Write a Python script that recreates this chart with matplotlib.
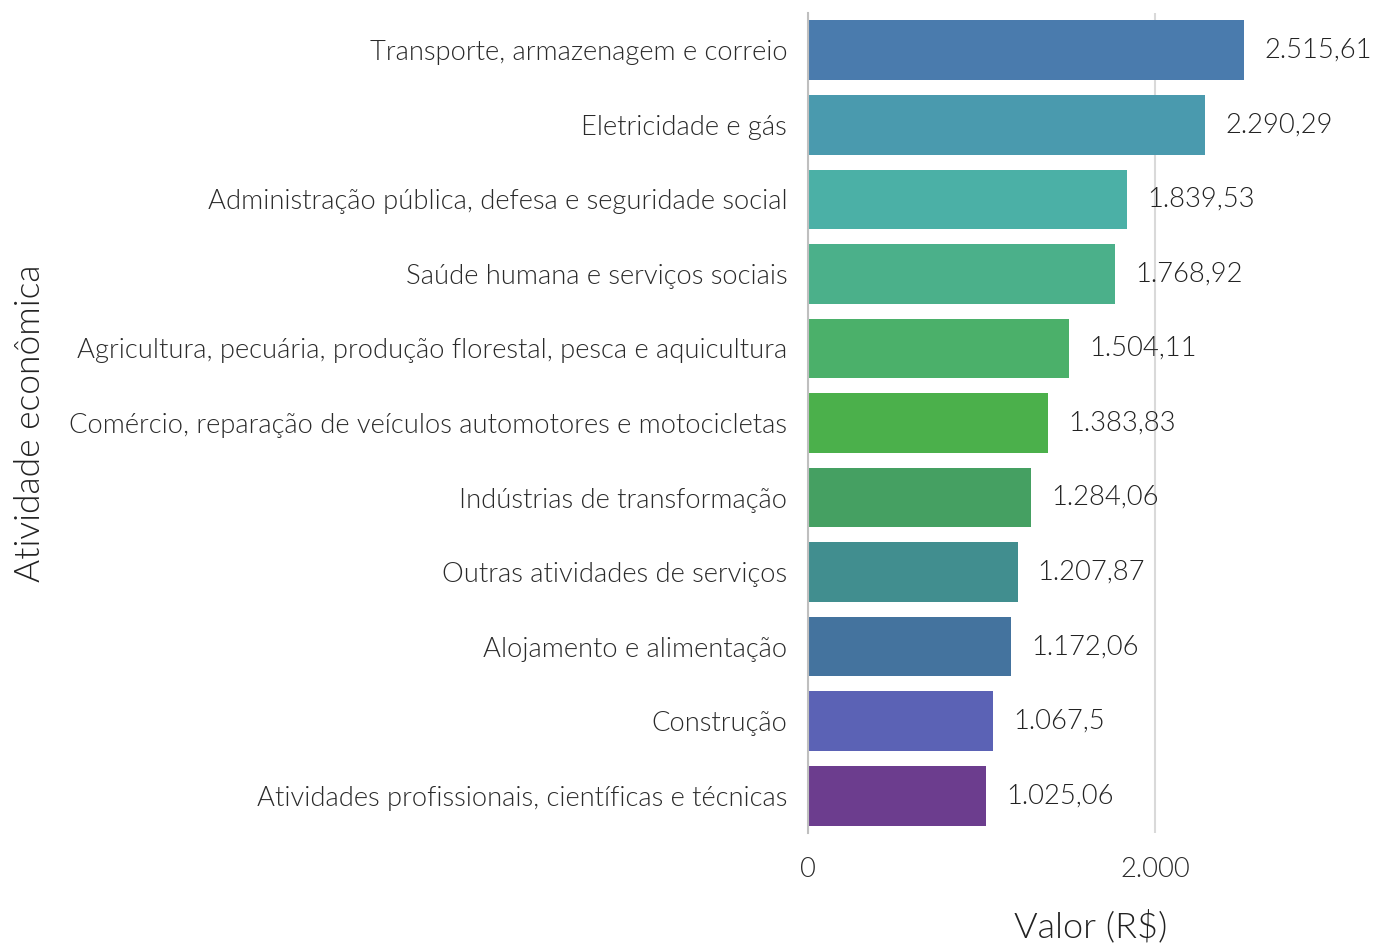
import matplotlib
matplotlib.use('Agg')
from matplotlib import pyplot as plt
from matplotlib.ticker import FuncFormatter


ATIVIDADES = [
    'Transporte, armazenagem e correio',
    'Eletricidade e gás',
    'Administração pública, defesa e seguridade social',
    'Saúde humana e serviços sociais',
    'Agricultura, pecuária, produção florestal, pesca e aquicultura',
    'Comércio, reparação de veículos automotores e motocicletas',
    'Indústrias de transformação',
    'Outras atividades de serviços',
    'Alojamento e alimentação',
    'Construção',
    'Atividades profissionais, científicas e técnicas',
]

VALORES = [2515.61, 2290.29, 1839.53, 1768.92, 1504.11, 1383.83,
           1284.06, 1207.87, 1172.06, 1067.5, 1025.06]

CORES = ['#4a7bad', '#4a9aae', '#4bb0a6', '#4bb08a', '#4bb06a', '#4bb04b',
         '#45a062', '#418e8f', '#44739e', '#5b62b5', '#6c3d8e']

X_TICKS = [0, 2000]


def br_format(value):
    'Formata número no padrão brasileiro (1.234,56)'
    text = f'{value:,.2f}'.rstrip('0').rstrip('.')
    return text.replace(',', 'X').replace('.', ',').replace('X', '.')


# Lato Light (peso 300)
plt.rcParams['font.family'] = ['Lato', 'DejaVu Sans']
plt.rcParams['font.weight'] = 300
plt.rcParams['axes.labelweight'] = 300

fig = plt.figure(figsize=(13.75, 9.43), dpi=100)
ax = fig.add_axes([808 / 1375, 1 - 833 / 943, 566 / 1375, 820 / 943])

positions = list(range(len(ATIVIDADES)))
ax.barh(positions, VALORES, height=0.8, color=CORES, zorder=2)

for pos, val in zip(positions, VALORES):
    ax.annotate(br_format(val), (val, pos), xytext=(20, 0),
                textcoords='offset pixels', va='center', ha='left',
                fontsize=19.7, color='#222222', zorder=3)

ax.set_ylim(len(ATIVIDADES) - 0.5, -0.5)
ax.set_xlim(0, 3262)
ax.set_yticks(positions)
ax.set_yticklabels(ATIVIDADES)
ax.set_xticks(X_TICKS)
ax.xaxis.set_major_formatter(FuncFormatter(lambda v, p: br_format(v)))

ax.tick_params(axis='both', length=0, labelsize=19.7, colors='#2a2a2a')
ax.tick_params(axis='y', pad=15)
ax.tick_params(axis='x', pad=17)

ax.grid(axis='x', color='#d9d9d9', linewidth=1.5, zorder=0)
for side in ['top', 'right', 'bottom']:
    ax.spines[side].set_visible(False)
ax.spines['left'].set_color('#bfbfbf')
ax.spines['left'].set_linewidth(1.5)

ax.set_xlabel('Valor (R$)', fontsize=26, color='#222222', labelpad=20)
ax.set_ylabel('Atividade econômica', fontsize=25.5, color='#222222')
ax.yaxis.set_label_coords(-1.346, 0.5)

fig.savefig('out.png', dpi=100, facecolor='white')
